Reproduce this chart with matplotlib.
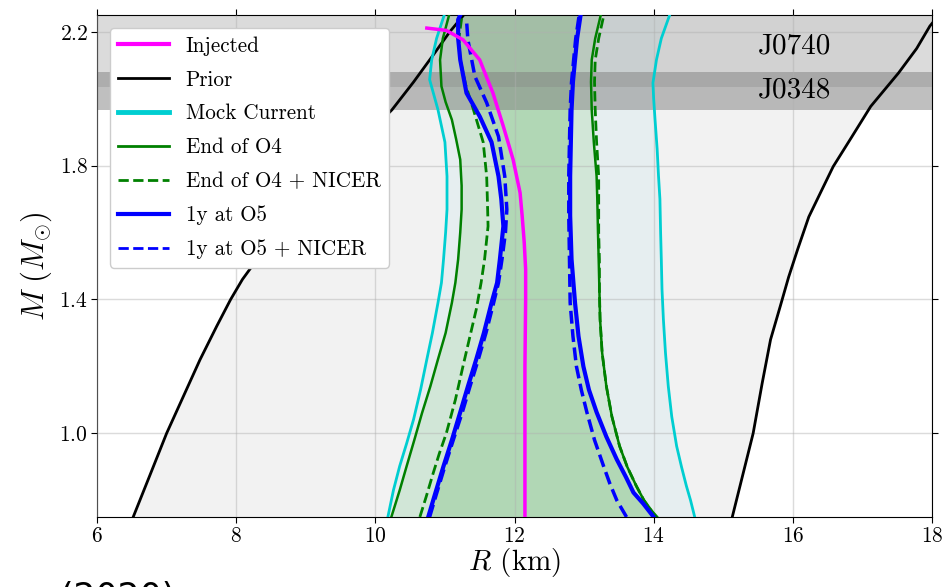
import numpy as np
import matplotlib
matplotlib.use('Agg')
from matplotlib import pyplot as plt

plt.rcParams['font.family'] = 'serif'
plt.rcParams['font.serif'] = ['cmr10']
plt.rcParams['mathtext.fontset'] = 'cm'
plt.rcParams['axes.formatter.use_mathtext'] = True

# --- curves: mass (M_sun) and radius (km) ---
prior_left_M = [0.75, 0.88, 1.0, 1.11, 1.22, 1.32, 1.40, 1.46, 1.52, 1.6, 1.7, 1.8, 1.9, 1.967, 2.05, 2.13, 2.2, 2.25]
prior_left_R = [6.52, 6.77, 7.0, 7.24, 7.48, 7.72, 7.92, 8.09, 8.30, 8.64, 9.06, 9.49, 9.92, 10.24, 10.55, 10.83, 11.07, 11.27]
prior_right_M = [0.75, 0.85, 1.0, 1.15, 1.28, 1.38, 1.467, 1.55, 1.647, 1.72, 1.797, 1.88, 1.977, 2.077, 2.15, 2.217, 2.25]
prior_right_R = [15.13, 15.25, 15.43, 15.56, 15.68, 15.82, 15.94, 16.07, 16.23, 16.40, 16.58, 16.83, 17.12, 17.52, 17.78, 17.97, 18.1]

mock_left_M = [0.75, 0.83, 0.902, 0.97, 1.042, 1.13, 1.221, 1.30, 1.39, 1.45, 1.52, 1.60, 1.669, 1.768, 1.87, 1.967, 2.057, 2.116, 2.18, 2.25]
mock_left_R = [10.18, 10.26, 10.35, 10.45, 10.55, 10.65, 10.74, 10.82, 10.90, 10.95, 10.98, 11.01, 11.03, 11.03, 11.0, 10.90, 10.78, 10.81, 10.88, 10.99]
mock_right_M = [0.75, 0.80, 0.843, 0.90, 0.962, 1.05, 1.141, 1.24, 1.34, 1.43, 1.52, 1.60, 1.70, 1.768, 1.85, 1.937, 2.0, 2.047, 2.116, 2.18, 2.25]
mock_right_R = [14.59, 14.53, 14.47, 14.40, 14.33, 14.26, 14.21, 14.17, 14.14, 14.12, 14.11, 14.10, 14.09, 14.07, 14.05, 14.02, 14.0, 13.99, 14.04, 14.11, 14.23]

o4_left_M = [0.75, 0.83, 0.902, 0.98, 1.06, 1.14, 1.221, 1.30, 1.39, 1.45, 1.52, 1.60, 1.669, 1.74, 1.818, 1.88, 1.937, 1.99, 2.037, 2.116, 2.18, 2.25]
o4_left_R = [10.23, 10.35, 10.45, 10.56, 10.67, 10.79, 10.90, 11.01, 11.10, 11.15, 11.19, 11.22, 11.24, 11.24, 11.22, 11.16, 11.10, 11.01, 10.95, 10.93, 10.97, 11.06]
o4_right_M = [0.75, 0.764, 0.80, 0.843, 0.90, 0.962, 1.05, 1.141, 1.24, 1.34, 1.43, 1.52, 1.60, 1.70, 1.768, 1.87, 1.967, 2.05, 2.116, 2.18, 2.25]
o4_right_R = [14.05, 13.99, 13.86, 13.75, 13.62, 13.51, 13.40, 13.32, 13.26, 13.23, 13.22, 13.21, 13.20, 13.19, 13.18, 13.14, 13.11, 13.10, 13.11, 13.16, 13.24]

o4n_left_M = [0.75, 0.81, 0.88, 0.94, 1.0, 1.10, 1.201, 1.29, 1.37, 1.45, 1.52, 1.619, 1.70, 1.768, 1.87, 1.967, 2.04, 2.116, 2.18, 2.24]
o4n_left_R = [10.64, 10.73, 10.83, 10.92, 11.02, 11.15, 11.26, 11.36, 11.45, 11.52, 11.57, 11.62, 11.61, 11.60, 11.55, 11.41, 11.30, 11.22, 11.20, 11.24]
o4n_right_M = [0.75, 0.764, 0.80, 0.843, 0.90, 0.962, 1.05, 1.141, 1.24, 1.34, 1.43, 1.52, 1.60, 1.70, 1.768, 1.87, 1.967, 2.05, 2.116, 2.18, 2.246]
o4n_right_R = [14.04, 13.98, 13.86, 13.75, 13.62, 13.51, 13.40, 13.32, 13.26, 13.23, 13.22, 13.22, 13.21, 13.21, 13.21, 13.18, 13.16, 13.15, 13.16, 13.21, 13.28]

o5_left_M = [0.75, 0.82, 0.902, 0.98, 1.063, 1.14, 1.221, 1.30, 1.39, 1.45, 1.52, 1.619, 1.70, 1.768, 1.87, 1.947, 2.017, 2.116, 2.18, 2.236, 2.25]
o5_left_R = [10.76, 10.86, 10.98, 11.10, 11.22, 11.33, 11.45, 11.56, 11.67, 11.75, 11.79, 11.84, 11.81, 11.77, 11.67, 11.50, 11.31, 11.22, 11.19, 11.19, 11.22]
o5_right_M = [0.75, 0.758, 0.79, 0.823, 0.87, 0.922, 0.99, 1.063, 1.13, 1.20, 1.29, 1.39, 1.52, 1.65, 1.768, 1.87, 1.967, 2.05, 2.116, 2.18, 2.25]
o5_right_R = [14.0, 13.97, 13.85, 13.71, 13.60, 13.47, 13.32, 13.18, 13.07, 12.99, 12.92, 12.87, 12.82, 12.80, 12.80, 12.81, 12.82, 12.84, 12.87, 12.90, 12.95]

o5n_left_M = [0.75, 0.82, 0.902, 0.98, 1.063, 1.14, 1.221, 1.30, 1.39, 1.45, 1.52, 1.60, 1.669, 1.768, 1.887, 1.988, 2.067, 2.176, 2.236]
o5n_left_R = [10.78, 10.88, 11.0, 11.12, 11.25, 11.36, 11.48, 11.59, 11.70, 11.77, 11.82, 11.87, 11.89, 11.86, 11.77, 11.60, 11.43, 11.33, 11.31]
o5n_right_M = [0.75, 0.80, 0.85, 0.902, 0.98, 1.063, 1.13, 1.20, 1.29, 1.39, 1.52, 1.65, 1.768, 1.87, 1.967, 2.05, 2.116, 2.18, 2.25]
o5n_right_R = [13.61, 13.47, 13.37, 13.28, 13.15, 13.04, 12.96, 12.89, 12.84, 12.80, 12.79, 12.78, 12.78, 12.79, 12.80, 12.82, 12.85, 12.88, 12.93]

inj_M = [0.75, 1.0, 1.2, 1.4, 1.49, 1.57, 1.65, 1.719, 1.818, 1.917, 2.017, 2.116, 2.176, 2.204, 2.211]
inj_R = [12.15, 12.15, 12.15, 12.16, 12.16, 12.14, 12.11, 12.08, 11.98, 11.84, 11.69, 11.50, 11.26, 11.02, 10.74]

# pulsar mass bands (lower, upper)
j0740_band = (2.036, 2.30)
j0348_band = (1.967, 2.079)


def closed(lm, lr, rm, rr):
    # polygon from the left edge going up and the right edge coming down
    return np.r_[lr, rr[::-1]], np.r_[lm, rm[::-1]]


fig = plt.figure(figsize=(9.43, 5.87), dpi=100)
ax = fig.add_axes([0.1029, 0.1193, 0.8854, 0.8551])

fills = [
    (prior_left_M, prior_left_R, prior_right_M, prior_right_R, '#f2f2f2'),
    (mock_left_M, mock_left_R, mock_right_M, mock_right_R, '#e6eef0'),
    (o4_left_M, o4_left_R, o4_right_M, o4_right_R, '#d1e6d7'),
    (o5_left_M, o5_left_R, o5_right_M, o5_right_R, '#b1d7b5'),
]
for lm, lr, rm, rr, c in fills:
    x, y = closed(lm, lr, rm, rr)
    ax.fill(x, y, color=c, lw=0, zorder=1)

ax.axhspan(*j0740_band, color='#808080', alpha=0.28, lw=0, zorder=2)
ax.axhspan(*j0348_band, color='#808080', alpha=0.5, lw=0, zorder=2)
ax.text(16.03, 2.155, 'J0740', fontsize=21, ha='center', va='center', zorder=3)
ax.text(16.03, 2.025, 'J0348', fontsize=21, ha='center', va='center', zorder=3)

ax.plot(prior_left_R, prior_left_M, color='black', lw=2, zorder=4)
ax.plot(prior_right_R, prior_right_M, color='black', lw=2, zorder=4)
ax.plot(mock_left_R, mock_left_M, color='#00ced1', lw=2, zorder=4)
ax.plot(mock_right_R, mock_right_M, color='#00ced1', lw=2, zorder=4)
ax.plot(o4_left_R, o4_left_M, color='green', lw=1.8, zorder=4)
ax.plot(o4_right_R, o4_right_M, color='green', lw=1.8, zorder=4)
ax.plot(o4n_left_R, o4n_left_M, color='green', lw=2, ls='--', zorder=4)
ax.plot(o4n_right_R, o4n_right_M, color='green', lw=2, ls='--', zorder=4)
ax.plot(o5_left_R, o5_left_M, color='blue', lw=3, zorder=5)
ax.plot(o5_right_R, o5_right_M, color='blue', lw=3, zorder=5)
ax.plot(o5n_left_R, o5n_left_M, color='blue', lw=2.5, ls='--', zorder=5)
ax.plot(o5n_right_R, o5n_right_M, color='blue', lw=2.5, ls='--', zorder=5)
ax.plot(inj_R, inj_M, color='magenta', lw=2.5, zorder=6)

# legend handles only
h = []
h += ax.plot([], [], color='magenta', lw=3, label='Injected')
h += ax.plot([], [], color='black', lw=2, label='Prior')
h += ax.plot([], [], color='#00ced1', lw=3.5, label='Mock Current')
h += ax.plot([], [], color='green', lw=2, label='End of O4')
h += ax.plot([], [], color='green', lw=2, ls='--', label='End of O4 + NICER')
h += ax.plot([], [], color='blue', lw=3, label='1y at O5')
h += ax.plot([], [], color='blue', lw=2, ls='--', label='1y at O5 + NICER')
leg = ax.legend(handles=h, loc='upper left', fontsize=15.2, handlelength=2.4,
                labelspacing=0.68, borderaxespad=0.6, framealpha=1.0)
leg.set_zorder(10)

ax.set_xlim(6, 18)
ax.set_ylim(0.75, 2.25)
ax.set_xticks([6, 8, 10, 12, 14, 16, 18])
ax.set_yticks([1.0, 1.4, 1.8, 2.2])
ax.grid(True, color='#b0b0b0', alpha=0.45, lw=1, zorder=3)
ax.set_axisbelow(False)
ax.tick_params(labelsize=15.5, top=True, right=True, direction='out', length=4, pad=2.5)
ax.set_xlabel('$R$ (km)', fontsize=21, labelpad=0)
ax.set_ylabel(r'$M\ (M_{\odot})$', fontsize=22, labelpad=4)

# fragment of a caption cut by the bottom edge
fig.text(60 / 943, -0.018, '(2020)', fontsize=25, family='DejaVu Sans', va='center')

fig.savefig('out.png', dpi=100)
